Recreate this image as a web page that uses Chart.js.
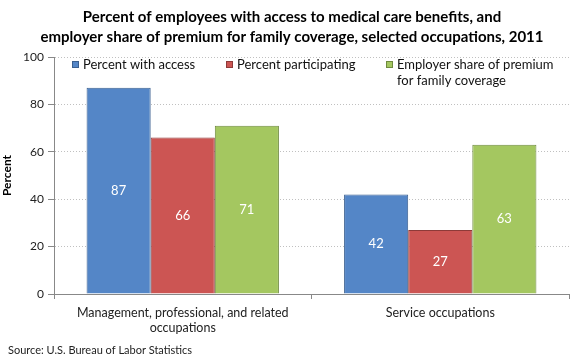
<!DOCTYPE html>
<html><head><meta charset="utf-8">
<script src="https://cdn.jsdelivr.net/npm/chart.js@4/dist/chart.umd.min.js"></script>
<style>html,body{margin:0;padding:0;background:#fff}#wrap{width:580px;height:360px}</style>
</head><body><div id="wrap"><canvas id="c" width="580" height="360"></canvas></div>
<script>
const titleLines = ["Percent of employees with access to medical care benefits, and","employer share of premium for family coverage, selected occupations, 2011"];
const sourceText = "Source: U.S. Bureau of Labor Statistics";
const categories = [["Management, professional, and related","occupations"],"Service occupations"];
const seriesNames = ["Percent with access","Percent participating",["Employer share of premium","for family coverage"]];
const accessValues = [87, 42];
const participatingValues = [66, 27];
const employerShareValues = [71, 63];
const yTicks = [0, 20, 40, 60, 80, 100];
const FONT = "Lato, 'Open Sans', sans-serif";

const fills = ["#5486C7", "#CC5553", "#A4C760"];
const borders = ["#3A5F8F", "#8E3A38", "#6F8A3E"];
const legendX = [72, 226, 386];

const deco = {
  id: 'deco',
  afterDraw(chart) {
    const ctx = chart.ctx;
    ctx.save();
    ctx.fillStyle = "#000";
    ctx.textAlign = "center";
    ctx.textBaseline = "middle";
    ctx.font = "bold 15px " + FONT;
    titleLines.forEach((t, i) => ctx.fillText(t, 292, 17 + i * 20));
    ctx.textAlign = "left";
    ctx.font = "11px " + FONT;
    ctx.fillStyle = "#222";
    ctx.fillText(sourceText, 8, 350);
    // legend
    chart.data.datasets.forEach((ds, i) => {
      const x = legendX[i], y = 65;
      ctx.fillStyle = fills[i];
      ctx.fillRect(x, y - 4, 7, 7);
      ctx.strokeStyle = borders[i];
      ctx.lineWidth = 1;
      ctx.strokeRect(x + 0.5, y - 3.5, 6, 6);
      ctx.fillStyle = "#111";
      ctx.font = "13px " + FONT;
      const lines = Array.isArray(ds.label) ? ds.label : [ds.label];
      lines.forEach((l, j) => ctx.fillText(l, x + 11, y + j * 16));
    });
    // value labels
    ctx.textAlign = "center";
    ctx.fillStyle = "#fff";
    ctx.font = "13px " + FONT;
    chart.data.datasets.forEach((ds, i) => {
      chart.getDatasetMeta(i).data.forEach((bar, j) => {
        const cy = (bar.y + bar.base) / 2;
        ctx.fillText(String(ds.data[j]), bar.x, cy);
      });
    });
    ctx.restore();
  }
};

new Chart(document.getElementById('c'), {
  type: 'bar',
  data: {
    labels: categories,
    datasets: [
      { label: seriesNames[0], data: accessValues },
      { label: seriesNames[1], data: participatingValues },
      { label: seriesNames[2], data: employerShareValues }
    ].map((d, i) => Object.assign(d, {
      backgroundColor: fills[i], borderColor: borders[i], borderWidth: 1,
      barPercentage: 1.0, categoryPercentage: 0.747
    }))
  },
  options: {
    responsive: false, animation: false,
    layout: { padding: { left: 0, right: 11, top: 57, bottom: 0 } },
    plugins: { legend: { display: false }, title: { display: false }, tooltip: { enabled: false } },
    scales: {
      x: {
        afterFit(s) { s.height = 66; },
        grid: { display: true, drawOnChartArea: false, offset: true, tickLength: 5, color: "#888" },
        border: { color: "#888" },
        ticks: { color: "#222", font: { size: 12.5, family: FONT, lineHeight: 1.2 }, padding: 6, maxRotation: 0 }
      },
      y: {
        min: 0, max: 100,
        afterFit(s) { s.width = 54; },
        afterBuildTicks(s) { s.ticks = yTicks.map(v => ({ value: v })); },
        grid: { color: "#C0C0C0", tickLength: 6, drawTicks: true, tickColor: "#888", tickBorderDash: [] },
        border: { color: "#888", dash: [1, 2], display: true },
        ticks: { color: "#222", font: { size: 12, family: FONT }, padding: 4 },
        title: { display: true, text: "Percent", color: "#000", font: { size: 12, weight: 'bold', family: FONT }, padding: { top: 0, bottom: 0 } }
      }
    }
  },
  plugins: [deco]
});
</script></body></html>
